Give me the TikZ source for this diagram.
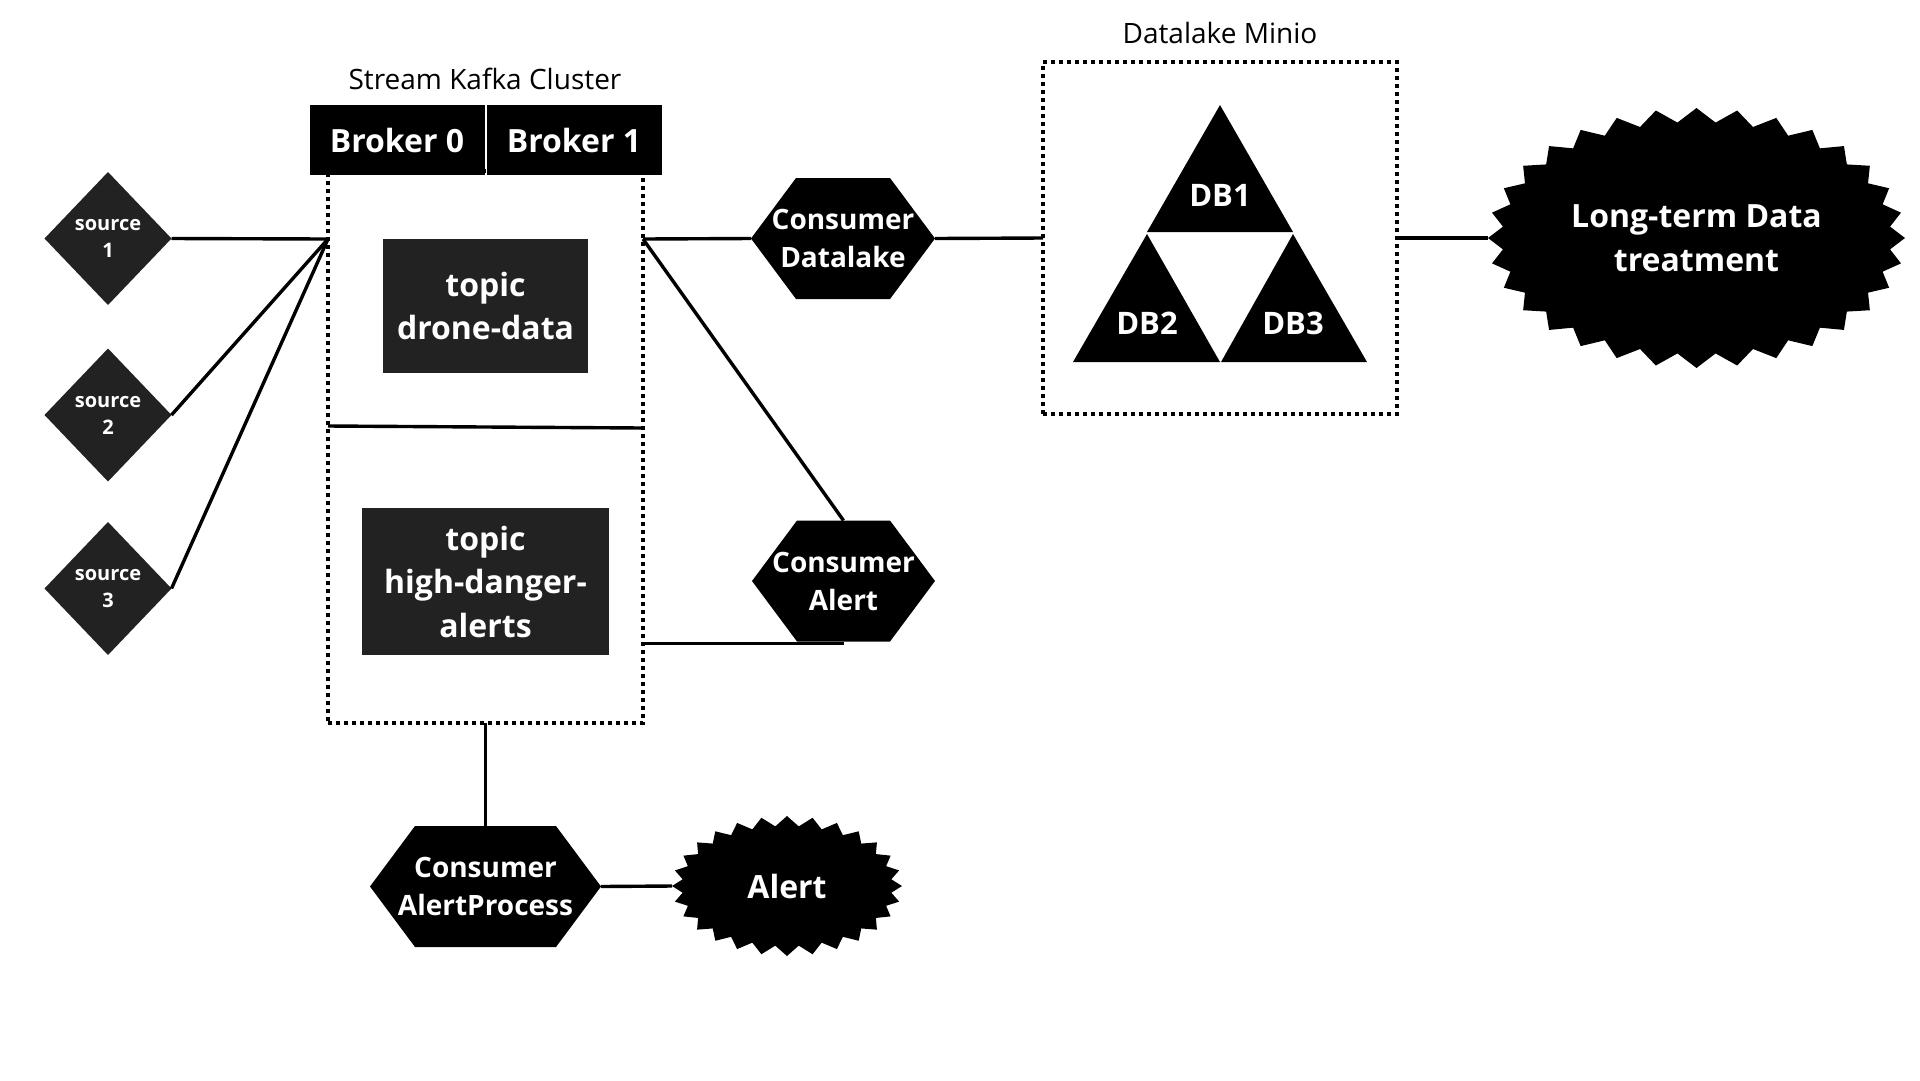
\documentclass[tikz,border=0pt]{standalone}
\usepackage{fontspec}
\setmainfont{Open Sans}
\usetikzlibrary{shapes.geometric,calc}
\definecolor{dgray}{RGB}{34,34,34}
\begin{document}
\begin{tikzpicture}[x=1pt,y=-1pt,
  conn/.style={draw=black, line width=3.4pt},
  dotbox/.style={draw=black, line width=4pt, dash pattern=on 4pt off 4pt, outer sep=0pt, inner sep=0pt},
  title/.style={text=black, font=\fontsize{28}{38}\selectfont, inner sep=0pt},
  srcbox/.style={diamond, fill=dgray, minimum width=127pt, minimum height=133pt, inner sep=0pt, outer sep=0pt,
     text=white, font=\bfseries\fontsize{20}{27}\selectfont, align=center},
  topicbox/.style={fill=dgray, inner sep=0pt, outer sep=0pt, text=white,
     font=\bfseries\fontsize{32}{43.5}\selectfont, align=center},
  brokerbox/.style={fill=black, minimum width=175pt, minimum height=70pt, inner sep=0pt, outer sep=0pt,
     text=white, font=\bfseries\fontsize{32}{43.5}\selectfont},
  hexa/.style={minimum width=#1, minimum height=121pt, inner sep=0pt, outer sep=0pt,
     text=white, font=\bfseries\fontsize{28}{38}\selectfont, align=center,
     path picture={\fill[black] (path picture bounding box.west)
        -- ([xshift=45pt]path picture bounding box.north west)
        -- ([xshift=-45pt]path picture bounding box.north east)
        -- (path picture bounding box.east)
        -- ([xshift=-45pt]path picture bounding box.south east)
        -- ([xshift=45pt]path picture bounding box.south west) -- cycle;}},
  burst/.style={ellipse, inner sep=0pt, outer sep=0pt, text=white,
     font=\bfseries\fontsize{32}{43.5}\selectfont, align=center},
  dblbl/.style={text=white, font=\bfseries\fontsize{31}{40}\selectfont, inner sep=0pt}
]
\useasboundingbox (0,0) rectangle (1920,1080);

% ---------- Kafka cluster ----------
\node[dotbox, minimum width=315pt, minimum height=552pt] (kafka) at (485.5,447) {};
\node[title] (kt) at (485,79) {Stream Kafka Cluster};
\node[brokerbox] (b0) at (397,140) {Broker 0};
\node[brokerbox] (b1) at (574,140) {Broker 1};
\node[topicbox, minimum width=205pt, minimum height=134pt] (t1) at (485.5,306) {topic\\drone-data};
\node[topicbox, minimum width=247pt, minimum height=147pt] (t2) at (485.5,581.5) {topic\\high-danger-\\alerts};

% ---------- sources ----------
\node[srcbox] (s1) at (108,238.5) {source\\1};
\node[srcbox] (s2) at (108,415) {source\\2};
\node[srcbox] (s3) at (108,588.5) {source\\3};

% ---------- consumers ----------
\node[hexa=184pt] (cd) at (843,238.5) {Consumer\\Datalake};
\node[hexa=183pt] (ca) at (843.5,581) {Consumer\\Alert};
\node[hexa=231pt] (cap) at (485.5,886.5) {Consumer\\AlertProcess};

% ---------- Alert starburst ----------
\fill[black] (902,886) \foreach \i in {1,...,55} { -- ({787+(115-10*mod(\i,2))*cos(\i*6.4285714)}, {886+(70-10*mod(\i,2))*sin(\i*6.4285714)}) } -- cycle;
\node[burst, minimum width=230pt, minimum height=140pt] (alert) at (787,886) {Alert};

% ---------- Datalake Minio ----------
\node[dotbox, minimum width=354pt, minimum height=352pt] (dl) at (1220,238) {};
\node[title] (dlt) at (1220,33) {Datalake Minio};
\fill[black] (1220,105) -- (1293,232) -- (1147,232) -- cycle;
\fill[black] (1147,234) -- (1220,362) -- (1073,362) -- cycle;
\fill[black] (1293,234) -- (1367,362) -- (1221,362) -- cycle;
\node[dblbl] (db1) at (1220,195) {DB1};
\node[dblbl] (db2) at (1147,323) {DB2};
\node[dblbl] (db3) at (1293,323) {DB3};

% ---------- Long-term starburst ----------
\fill[black] (1905,238) \foreach \i in {1,...,63} { -- ({1696.5+(208.5-14*mod(\i,2))*cos(\i*5.625)}, {238+(130-14*mod(\i,2))*sin(\i*5.625)}) } -- cycle;
\node[burst, minimum width=417pt, minimum height=260pt] (lt) at (1696.5,238) {Long-term Data\\treatment};

% ---------- connectors ----------
\coordinate (kin) at (kafka.west |- 0,239);
\coordinate (kout) at (kafka.east |- 0,239);
\coordinate (dv1) at (kafka.west |- 0,426);
\coordinate (dv2) at (kafka.east |- 0,428);
\draw[conn] (s1.east) -- (kin);
\draw[conn] (s2.east) -- (kin);
\draw[conn] (s3.east) -- (kin);
\draw[conn] (dv1) -- (dv2);
\draw[conn] (kout) -- (cd.west);
\draw[conn] (kout) -- (ca.north);
\draw[conn] ([yshift=-2pt]ca.south) -- ([yshift=-2pt]ca.south -| kafka.east);
\draw[conn] (kafka.south) -- (cap.north);
\draw[conn] (cap.east) -- (alert.west);
\draw[conn] (cd.east) -- (dl.west);
\draw[conn] (dl.east) -- (lt.west);
\end{tikzpicture}
\end{document}
